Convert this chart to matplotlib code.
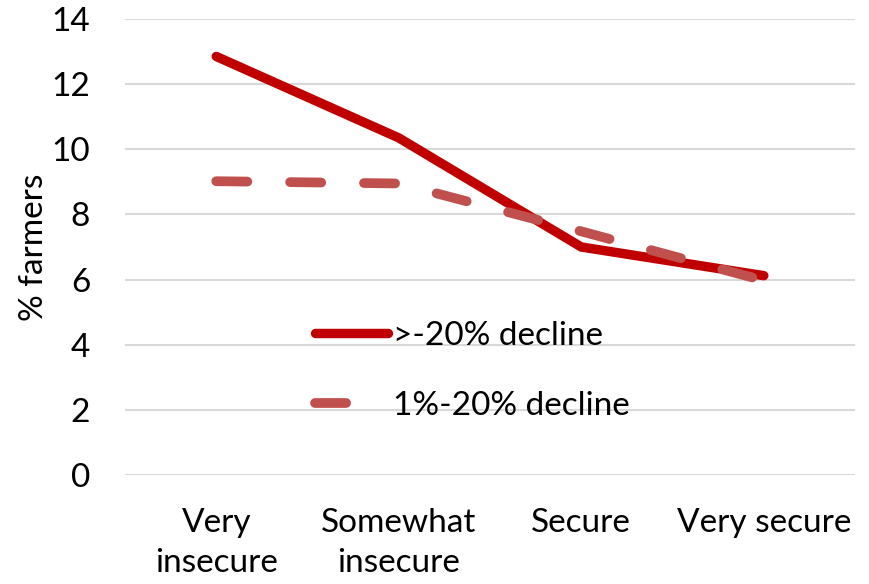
import matplotlib.pyplot as plt
import numpy as np

plt.rcParams['font.family'] = ['Lato', 'DejaVu Sans']

categories = ["Very\ninsecure", "Somewhat\ninsecure", "Secure", "Very secure"]
big_decline = [12.85, 10.35, 7.0, 6.12]
small_decline = [9.02, 8.95, 7.48, 5.97]

fig = plt.figure(figsize=(8.69, 5.84), dpi=100)
ax = fig.add_axes([0.1438, 0.1866, 0.8402, 0.7809])

x = np.arange(len(categories))
ax.plot(x, big_decline, color='#C00000', lw=6.8, solid_capstyle='round',
        solid_joinstyle='miter', label='>-20% decline', zorder=3)
ax.plot(x, small_decline, color='#C0504D', lw=7, dashes=(3.2, 4.4),
        dash_capstyle='round', label='1%-20% decline', zorder=4)

ax.set_xlim(-0.5, len(categories) - 0.5)
ax.set_ylim(0, 14)
ax.set_yticks(np.arange(0, 15, 2))
ax.set_xticks(x)
ax.set_xticklabels(categories, fontsize=24, linespacing=1.4)
ax.tick_params(axis='y', labelsize=24, length=0, pad=25)
ax.tick_params(axis='x', length=0, pad=24)
ax.grid(axis='y', color='#D9D9D9', lw=1.5)
ax.set_axisbelow(True)
for s in ax.spines.values():
    s.set_visible(False)
ax.set_ylabel('% farmers', fontsize=24, labelpad=2)

ax.legend(loc='upper left', bbox_to_anchor=(315 / 869, 1 - 321 / 584),
          bbox_transform=fig.transFigure, frameon=False, fontsize=24,
          handlelength=2.2, handletextpad=0.15, labelspacing=1.2,
          borderpad=0, borderaxespad=0)

fig.savefig('out.png', dpi=100)
